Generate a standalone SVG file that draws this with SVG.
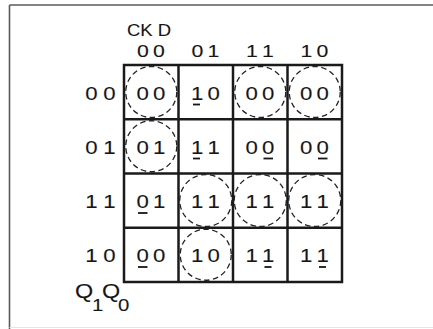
<svg xmlns="http://www.w3.org/2000/svg" width="433" height="329" viewBox="0 0 433 329">
<style>
.d{font-family:"Liberation Sans",Arial,sans-serif;font-size:18.5px;fill:#161616;stroke:#161616;stroke-width:0.1;text-anchor:middle}
.h{font-family:"Liberation Sans",Arial,sans-serif;font-size:17px;fill:#161616;stroke:#161616;stroke-width:0.1;text-anchor:middle}
.t{font-family:"Liberation Sans",Arial,sans-serif;fill:#161616;stroke:#161616;stroke-width:0.1}
.c{fill:none;stroke:#222;stroke-width:1.3;stroke-dasharray:5.5 3.5}
.u{stroke:#161616;stroke-width:1.8}
.g{fill:none;stroke:#1a1a1a;stroke-width:2.5}
</style>
<rect width="433" height="329" fill="#fff"/>
<g id="frame">
<line x1="9.5" y1="5" x2="433" y2="5" stroke="#5a5a5a" stroke-width="1.6"/>
<line x1="9.5" y1="5" x2="9.5" y2="329" stroke="#5a5a5a" stroke-width="1.6"/>
<line x1="9.5" y1="327.5" x2="433" y2="327.5" stroke="#e4e4e4" stroke-width="1"/>
</g>
<g id="grid">
<rect class="g" x="124" y="65" width="218" height="217"/>
<line class="g" x1="178.5" y1="65" x2="178.5" y2="282"/>
<line class="g" x1="233" y1="65" x2="233" y2="282"/>
<line class="g" x1="287.5" y1="65" x2="287.5" y2="282"/>
<line class="g" x1="124" y1="119.25" x2="342" y2="119.25"/>
<line class="g" x1="124" y1="173.5" x2="342" y2="173.5"/>
<line class="g" x1="124" y1="227.75" x2="342" y2="227.75"/>
</g>
<g id="connectors"></g>
<g id="label-ckd"><text class="t" font-size="16.5" transform="translate(127 36) scale(1.12 1)">CK D</text></g>
<g id="col-headers">
<text class="h" transform="translate(143 56.5) scale(1.25 1)">0</text><text class="h" transform="translate(159 56.5) scale(1.25 1)">0</text>
<text class="h" transform="translate(197.5 56.5) scale(1.25 1)">0</text><text class="h" transform="translate(213.5 56.5) scale(1.25 1)">1</text>
<text class="h" transform="translate(252 56.5) scale(1.25 1)">1</text><text class="h" transform="translate(268 56.5) scale(1.25 1)">1</text>
<text class="h" transform="translate(306.5 56.5) scale(1.25 1)">1</text><text class="h" transform="translate(322.5 56.5) scale(1.25 1)">0</text>
</g>
<g id="row-headers">
<text class="d" transform="translate(91.5 99.5) scale(1.2 1)">0</text><text class="d" transform="translate(109.5 99.5) scale(1.2 1)">0</text>
<text class="d" transform="translate(91.5 153.5) scale(1.2 1)">0</text><text class="d" transform="translate(109.5 153.5) scale(1.2 1)">1</text>
<text class="d" transform="translate(91.5 208) scale(1.2 1)">1</text><text class="d" transform="translate(109.5 208) scale(1.2 1)">1</text>
<text class="d" transform="translate(91.5 262) scale(1.2 1)">1</text><text class="d" transform="translate(109.5 262) scale(1.2 1)">0</text>
</g>
<g id="label-q1q0">
<text class="t" font-size="19.5" transform="translate(75 298) scale(1.2 1)">Q</text>
<text class="t" font-size="17" transform="translate(92 310.5) scale(1.2 1)">1</text>
<text class="t" font-size="19.5" transform="translate(102 298) scale(1.2 1)">Q</text>
<text class="t" font-size="17" transform="translate(118 310.5) scale(1.2 1)">0</text>
</g>
<!-- row 00 -->
<g id="cell-00-00"><circle class="c" cx="151.25" cy="92" r="25.5"/><text class="d" transform="translate(142.75 99.5) scale(1.2 1)">0</text><text class="d" transform="translate(159.25 99.5) scale(1.2 1)">0</text></g>
<g id="cell-00-01"><text class="d" transform="translate(197.25 99.5) scale(1.2 1)">1</text><text class="d" transform="translate(213.75 99.5) scale(1.2 1)">0</text><line class="u" x1="193" y1="104.5" x2="200" y2="104.5"/></g>
<g id="cell-00-11"><circle class="c" cx="260.25" cy="92" r="25.5"/><text class="d" transform="translate(251.75 99.5) scale(1.2 1)">0</text><text class="d" transform="translate(268.25 99.5) scale(1.2 1)">0</text></g>
<g id="cell-00-10"><circle class="c" cx="314.75" cy="92" r="25.5"/><text class="d" transform="translate(306.25 99.5) scale(1.2 1)">0</text><text class="d" transform="translate(322.75 99.5) scale(1.2 1)">0</text></g>
<!-- row 01 -->
<g id="cell-01-00"><circle class="c" cx="151.25" cy="146.25" r="25.5"/><text class="d" transform="translate(142.75 153.5) scale(1.2 1)">0</text><text class="d" transform="translate(159.25 153.5) scale(1.2 1)">1</text></g>
<g id="cell-01-01"><text class="d" transform="translate(197.25 153.5) scale(1.2 1)">1</text><text class="d" transform="translate(213.75 153.5) scale(1.2 1)">1</text><line class="u" x1="193" y1="158.5" x2="200" y2="158.5"/></g>
<g id="cell-01-11"><text class="d" transform="translate(251.75 153.5) scale(1.2 1)">0</text><text class="d" transform="translate(268.25 153.5) scale(1.2 1)">0</text><line class="u" x1="263.5" y1="158.5" x2="273" y2="158.5"/></g>
<g id="cell-01-10"><text class="d" transform="translate(306.25 153.5) scale(1.2 1)">0</text><text class="d" transform="translate(322.75 153.5) scale(1.2 1)">0</text><line class="u" x1="318" y1="158.5" x2="327.5" y2="158.5"/></g>
<!-- row 11 -->
<g id="cell-11-00"><text class="d" transform="translate(142.75 208) scale(1.2 1)">0</text><text class="d" transform="translate(159.25 208) scale(1.2 1)">1</text><line class="u" x1="138" y1="213" x2="147.5" y2="213"/></g>
<g id="cell-11-01"><circle class="c" cx="205.75" cy="200.5" r="26"/><text class="d" transform="translate(197.25 208) scale(1.2 1)">1</text><text class="d" transform="translate(213.75 208) scale(1.2 1)">1</text></g>
<g id="cell-11-11"><circle class="c" cx="260.25" cy="200.5" r="26"/><text class="d" transform="translate(251.75 208) scale(1.2 1)">1</text><text class="d" transform="translate(268.25 208) scale(1.2 1)">1</text></g>
<g id="cell-11-10"><circle class="c" cx="314.75" cy="200.5" r="26"/><text class="d" transform="translate(306.25 208) scale(1.2 1)">1</text><text class="d" transform="translate(322.75 208) scale(1.2 1)">1</text></g>
<!-- row 10 -->
<g id="cell-10-00"><text class="d" transform="translate(142.75 262) scale(1.2 1)">0</text><text class="d" transform="translate(159.25 262) scale(1.2 1)">0</text><line class="u" x1="138" y1="267" x2="147.5" y2="267"/></g>
<g id="cell-10-01"><circle class="c" cx="205.75" cy="254.75" r="25.5"/><text class="d" transform="translate(197.25 262) scale(1.2 1)">1</text><text class="d" transform="translate(213.75 262) scale(1.2 1)">0</text></g>
<g id="cell-10-11"><text class="d" transform="translate(251.75 262) scale(1.2 1)">1</text><text class="d" transform="translate(268.25 262) scale(1.2 1)">1</text><line class="u" x1="264.5" y1="267" x2="271.5" y2="267"/></g>
<g id="cell-10-10"><text class="d" transform="translate(306.25 262) scale(1.2 1)">1</text><text class="d" transform="translate(322.75 262) scale(1.2 1)">1</text><line class="u" x1="319" y1="267" x2="326" y2="267"/></g>
</svg>
